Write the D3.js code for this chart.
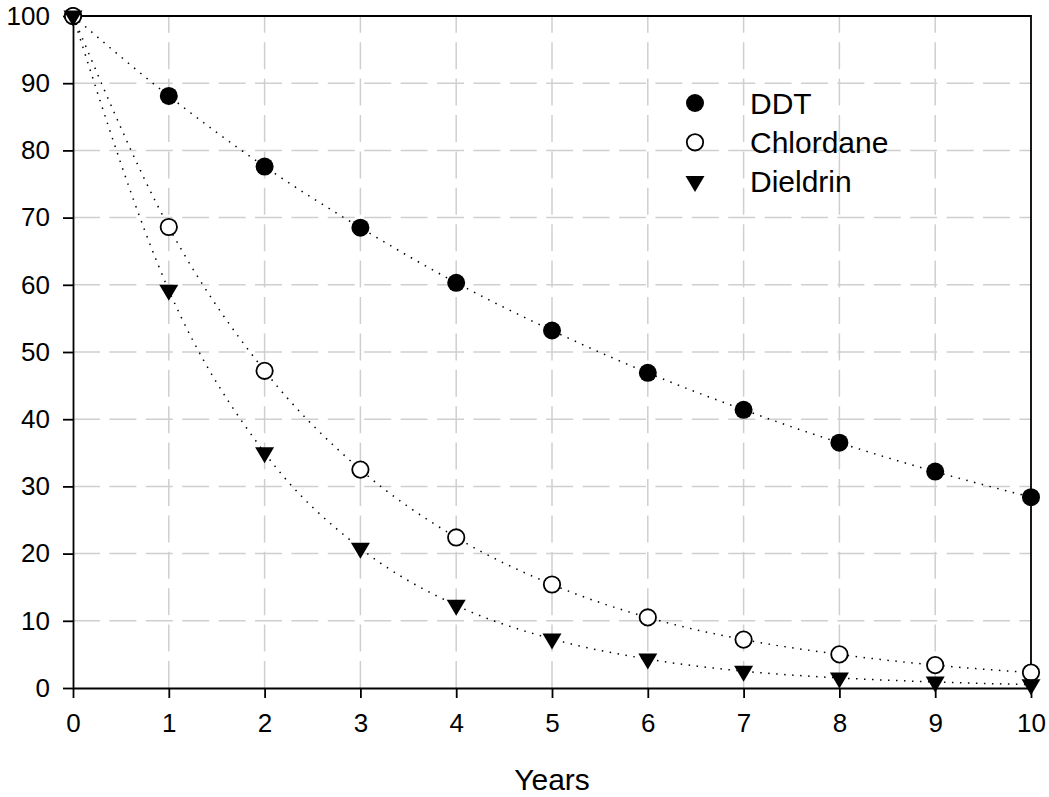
<!DOCTYPE html>
<html>
<head>
<meta charset="utf-8">
<script src="https://cdn.jsdelivr.net/npm/d3@7"></script>
<style>
  html, body { margin: 0; padding: 0; background: #fff; }
  svg { display: block; font-family: "Liberation Sans", Arial, sans-serif; }
</style>
</head>
<body>
<svg id="chart" width="1049" height="797"></svg>
<script>
const years = [0, 1, 2, 3, 4, 5, 6, 7, 8, 9, 10];
const ddt = [100, 88.1, 77.6, 68.5, 60.3, 53.2, 46.9, 41.4, 36.5, 32.2, 28.4];
const chlordane = [100, 68.6, 47.2, 32.5, 22.4, 15.4, 10.5, 7.2, 5.0, 3.4, 2.3];
const dieldrin = [100, 59.2, 35.0, 20.8, 12.3, 7.3, 4.3, 2.5, 1.5, 0.9, 0.5];
const seriesNames = ["DDT", "Chlordane", "Dieldrin"];
const xTicks = [0, 1, 2, 3, 4, 5, 6, 7, 8, 9, 10];
const yTicks = [0, 10, 20, 30, 40, 50, 60, 70, 80, 90, 100];

const series = [
  { name: seriesNames[0], values: ddt, marker: "filled" },
  { name: seriesNames[1], values: chlordane, marker: "open" },
  { name: seriesNames[2], values: dieldrin, marker: "triangle" }
];

const svg = d3.select("#chart");
const plotLeft = 73, plotRight = 1031, plotTop = 16, plotBottom = 688;

const x = d3.scaleLinear().domain([0, 10]).range([plotLeft, plotRight]);
const y = d3.scaleLinear().domain([0, 100]).range([plotBottom, plotTop]);

// Grid - dashes start at the axes
const grid = svg.append("g")
  .attr("stroke", "#cfcfcf")
  .attr("stroke-width", 1.5)
  .attr("stroke-dasharray", "27,9.4");
xTicks.slice(1, -1).forEach(t => {
  grid.append("line")
    .attr("x1", x(t)).attr("x2", x(t))
    .attr("y1", plotBottom).attr("y2", plotTop);
});
yTicks.slice(1, -1).forEach(t => {
  grid.append("line")
    .attr("x1", plotLeft).attr("x2", plotRight)
    .attr("y1", y(t)).attr("y2", y(t));
});

// Frame (top, right)
svg.append("path")
  .attr("d", `M${plotLeft},${plotTop}H${plotRight}V${plotBottom}`)
  .attr("fill", "none").attr("stroke", "#000").attr("stroke-width", 1.8);

// Axes
const xAxis = svg.append("g")
  .attr("transform", `translate(0,${plotBottom})`)
  .call(d3.axisBottom(x).tickValues(xTicks).tickSize(10).tickPadding(16).tickSizeOuter(0));
const yAxis = svg.append("g")
  .attr("transform", `translate(${plotLeft},0)`)
  .call(d3.axisLeft(y).tickValues(yTicks).tickSize(10).tickPadding(13).tickSizeOuter(0));

[xAxis, yAxis].forEach(a => {
  a.select(".domain").attr("stroke", "#000").attr("stroke-width", 1.8);
  a.selectAll(".tick line").attr("stroke", "#000").attr("stroke-width", 1.8);
  a.selectAll(".tick text")
    .attr("fill", "#000")
    .style("font-size", "26px")
    .style("font-family", "'Liberation Sans', Arial, sans-serif");
});

svg.append("text")
  .attr("x", (plotLeft + plotRight) / 2).attr("y", 790)
  .attr("text-anchor", "middle")
  .style("font-size", "30px")
  .text("Years");

// Curves
const line = d3.line()
  .x((d, i) => x(years[i]))
  .y(d => y(d))
  .curve(d3.curveMonotoneX);

series.forEach(s => {
  svg.append("path")
    .attr("d", line(s.values))
    .attr("fill", "none")
    .attr("stroke", "#000")
    .attr("stroke-width", 1.5)
    .attr("stroke-dasharray", "1.5,6.5");
});

// Markers
function drawMarker(g, type, cx, cy) {
  if (type === "triangle") {
    g.append("path")
      .attr("d", `M${cx - 9.5},${cy - 5.5}L${cx + 9.5},${cy - 5.5}L${cx},${cy + 10.5}Z`)
      .attr("fill", "#000");
  } else {
    g.append("circle")
      .attr("cx", cx).attr("cy", cy)
      .attr("r", type === "filled" ? 9 : 8.2)
      .attr("fill", type === "filled" ? "#000" : "#fff")
      .attr("stroke", "#000")
      .attr("stroke-width", type === "filled" ? 0 : 1.8);
  }
}

const markers = svg.append("g");
series.forEach(s => {
  s.values.forEach((v, i) => drawMarker(markers, s.marker, x(years[i]), y(v)));
});

// Legend
const legend = svg.append("g");
series.forEach((s, i) => {
  const ly = 103 + i * 39.3;
  drawMarker(legend, s.marker, 695, ly);
  legend.append("text")
    .attr("x", 750).attr("y", ly + 10.5)
    .style("font-size", "30px")
    .text(s.name);
});
</script>
</body>
</html>
